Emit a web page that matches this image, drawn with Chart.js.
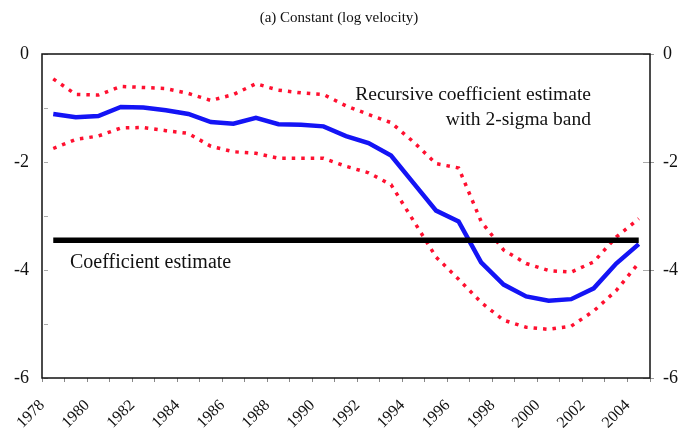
<!DOCTYPE html>
<html>
<head>
<meta charset="utf-8">
<script src="https://cdn.jsdelivr.net/npm/chart.js@4.4.1/dist/chart.umd.min.js"></script>
<style>
  html, body { margin: 0; padding: 0; background: #fff; }
  #wrap { width: 678px; height: 437px; }
</style>
</head>
<body>
<div id="wrap"><canvas id="chart" width="678" height="437"></canvas></div>
<script>
// years on the category axis
const years = [1978,1979,1980,1981,1982,1983,1984,1985,1986,1987,1988,1989,1990,1991,
               1992,1993,1994,1995,1996,1997,1998,1999,2000,2001,2002,2003,2004];

// recursive estimate (blue)
const recursive = [-1.11,-1.17,-1.15,-0.98,-0.99,-1.04,-1.11,-1.26,-1.29,-1.18,-1.30,-1.31,-1.34,-1.52,
                   -1.65,-1.88,-2.39,-2.90,-3.10,-3.86,-4.27,-4.49,-4.57,-4.54,-4.34,-3.88,-3.52];
// 2-sigma band
const upperBand = [-0.46,-0.75,-0.76,-0.60,-0.62,-0.64,-0.73,-0.86,-0.75,-0.55,-0.67,-0.72,-0.75,-0.96,
                   -1.12,-1.27,-1.63,-2.03,-2.11,-3.10,-3.63,-3.88,-4.01,-4.04,-3.85,-3.39,-3.05];
const lowerBand = [-1.75,-1.58,-1.52,-1.37,-1.36,-1.42,-1.47,-1.71,-1.81,-1.84,-1.93,-1.93,-1.93,-2.08,
                   -2.20,-2.42,-3.09,-3.76,-4.17,-4.60,-4.93,-5.06,-5.10,-5.04,-4.76,-4.38,-3.87];
// full sample estimate
const fullEstimate = -3.45;

const yTicks = [0, -2, -4, -6];
const yMinor = [-1, -3, -5];
const titleText = '(a) Constant (log velocity)';

const serif = '"Liberation Serif", "Times New Roman", serif';

// frame, small inside ticks, title, annotations
const extras = {
  id: 'extras',
  afterDraw(chart) {
    const ctx = chart.ctx;
    const a = chart.chartArea;
    const ys = chart.scales.y;
    ctx.save();

    // inside tick marks
    ctx.strokeStyle = '#aaa';
    ctx.lineWidth = 1;
    ctx.beginPath();
    yTicks.concat(yMinor).forEach(v => {
      const py = Math.round(ys.getPixelForValue(v)) + 0.5;
      ctx.moveTo(a.left + 2, py); ctx.lineTo(a.left + 6, py);
    });
    yTicks.forEach(v => {
      const py = Math.round(ys.getPixelForValue(v)) + 0.5;
      ctx.moveTo(a.right - 7, py); ctx.lineTo(a.right, py);
    });
    ctx.stroke();

    ctx.strokeStyle = '#111';
    ctx.lineWidth = 1.5;
    ctx.strokeRect(a.left, a.top, a.right - a.left, a.bottom - a.top);

    ctx.fillStyle = '#111';
    ctx.textBaseline = 'alphabetic';
    ctx.font = '15px ' + serif;
    ctx.textAlign = 'center';
    ctx.fillText(titleText, 339, 22);

    ctx.font = '19.5px ' + serif;
    ctx.textAlign = 'right';
    ctx.fillText('Recursive coefficient estimate', 591, 100);
    ctx.fillText('with 2-sigma band', 591, 125);
    ctx.font = '20px ' + serif;
    ctx.textAlign = 'left';
    ctx.fillText('Coefficient estimate', 70, 268);
    ctx.restore();
  }
};

new Chart(document.getElementById('chart'), {
  type: 'line',
  data: {
    labels: years,
    datasets: [
      {
        label: 'Coefficient estimate',
        data: years.map(() => fullEstimate),
        borderColor: '#000',
        borderWidth: 5.5,
        pointRadius: 0
      },
      {
        label: 'Upper band',
        data: upperBand,
        borderColor: '#ff1030',
        borderWidth: 3.5,
        borderDash: [3.5, 6],
        pointRadius: 0
      },
      {
        label: 'Lower band',
        data: lowerBand,
        borderColor: '#ff1030',
        borderWidth: 3.5,
        borderDash: [3.5, 6],
        pointRadius: 0
      },
      {
        label: 'Recursive estimate',
        data: recursive,
        borderColor: '#1414f5',
        borderWidth: 4.5,
        pointRadius: 0
      }
    ]
  },
  options: {
    responsive: false,
    animation: false,
    layout: { padding: { top: 54, left: 0, right: 0, bottom: 0 } },
    plugins: {
      legend: { display: false },
      title: { display: false },
      tooltip: { enabled: false }
    },
    scales: {
      x: {
        type: 'category',
        offset: true,
        border: { display: false },
        grid: { offset: true, drawOnChartArea: false, tickLength: 4, color: '#888' },
        ticks: {
          autoSkip: false,
          minRotation: 45,
          maxRotation: 45,
          padding: 14,
          labelOffset: -11,
          color: '#111',
          font: { family: serif, size: 16 },
          callback: function(v, i) { return years[i] % 2 === 0 ? String(years[i]) : ''; }
        },
        afterFit(scale) { scale.height = 59; }
      },
      y: {
        position: 'left',
        min: -6, max: 0,
        border: { display: false },
        grid: { drawOnChartArea: false, drawTicks: false },
        ticks: {
          padding: 13,
          color: '#111',
          font: { family: serif, size: 18 }
        },
        afterBuildTicks(scale) { scale.ticks = yTicks.map(v => ({ value: v })); },
        afterFit(scale) { scale.width = 42; }
      },
      y1: {
        position: 'right',
        min: -6, max: 0,
        border: { display: false },
        grid: { drawOnChartArea: false, tickLength: 4, color: '#999' },
        ticks: {
          padding: 9,
          color: '#111',
          font: { family: serif, size: 18 }
        },
        afterBuildTicks(scale) { scale.ticks = yTicks.map(v => ({ value: v })); },
        afterFit(scale) { scale.width = 28; }
      }
    }
  },
  plugins: [extras]
});
</script>
</body>
</html>
